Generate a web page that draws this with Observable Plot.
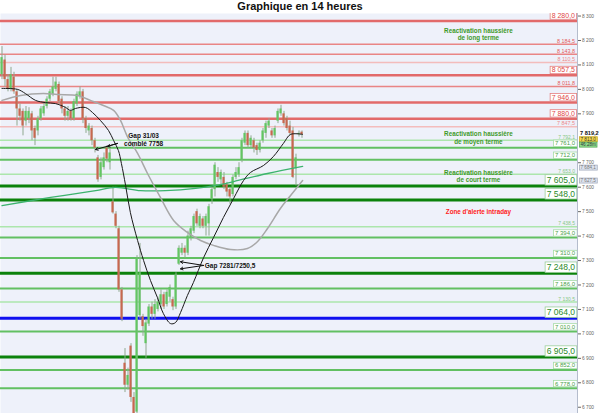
<!DOCTYPE html>
<html><head><meta charset="utf-8">
<script src="https://cdn.jsdelivr.net/npm/d3@7"></script>
<script src="https://cdn.jsdelivr.net/npm/@observablehq/plot@0.6"></script>
<style>
body{margin:0;background:#fff;font-family:"Liberation Sans",Arial,sans-serif;}
#title{height:13px;line-height:13px;text-align:center;font-weight:bold;font-size:11px;color:#111;}
#chart svg{display:block;}
</style></head><body>
<div id="title">Graphique en 14 heures</div>
<div id="chart"></div>
<script>
// ---------- candles (14h bars) ----------
const open  = [8060,8120,8040,8000,8050,7990,7920,7910,7870,7880,7900,7840,7830,7880,7900,7930,7960,7980,8000,8020,7960,7920,7890,7910,7880,7940,7970,7990,7880,7830,7840,7790,7720,7640,7680,7760,7700,7540,7490,7430,7180,6880,6790,6950,6740,6680,7075,7070,6960,7040,7110,7080,7100,7120,7160,7120,7150,7140,7110,7285,7330,7350,7330,7390,7420,7500,7440,7470,7440,7450,7550,7590,7660,7630,7640,7610,7590,7570,7640,7650,7710,7780,7820,7770,7790,7770,7750,7790,7820,7850,7830,7810,7870,7900,7900,7880,7850,7830,7675,7815,7825];
const high  = [8175,8140,8060,8090,8070,8000,7940,7920,7930,7925,7910,7850,7890,7930,7945,7970,8000,8050,8050,8030,7970,7930,7930,7920,7960,7990,8010,8000,7890,7860,7850,7800,7730,7720,7740,7770,7760,7600,7500,7440,7190,6940,6860,6960,6760,7320,7370,7080,7060,7120,7130,7140,7150,7180,7170,7180,7200,7150,7250,7360,7370,7360,7420,7440,7490,7510,7490,7480,7490,7530,7600,7700,7680,7670,7660,7620,7600,7650,7680,7700,7800,7830,7830,7810,7800,7780,7790,7840,7870,7880,7840,7850,7920,7935,7910,7890,7870,7845,7735,7830,7830];
const low   = [8040,8010,7990,7990,7980,7850,7870,7810,7850,7860,7790,7770,7810,7870,7890,7920,7950,7970,7990,7940,7900,7870,7870,7870,7870,7930,7960,7860,7820,7810,7770,7740,7620,7630,7670,7700,7670,7490,7430,7170,7050,6760,6770,6720,6650,6660,7060,6990,6900,7030,7060,7060,7090,7100,7100,7110,7130,7095,7100,7280,7320,7310,7320,7380,7410,7440,7430,7430,7400,7400,7530,7560,7620,7610,7590,7560,7530,7560,7630,7640,7700,7770,7760,7760,7740,7730,7740,7780,7800,7840,7800,7800,7860,7890,7850,7830,7810,7635,7605,7805,7800];
const close = [8130,8040,8000,8060,7990,7920,7890,7850,7910,7910,7830,7800,7880,7920,7930,7960,7990,8010,8030,7950,7920,7890,7910,7880,7950,7980,7990,7880,7840,7850,7790,7760,7630,7700,7720,7715,7740,7495,7440,7180,7060,6790,6830,6740,6670,7310,7250,7030,7045,7110,7080,7120,7130,7160,7110,7170,7190,7110,7240,7350,7350,7330,7400,7430,7480,7450,7480,7440,7480,7520,7590,7690,7640,7660,7600,7580,7560,7640,7660,7680,7790,7820,7770,7800,7760,7750,7780,7830,7860,7870,7810,7840,7910,7920,7860,7840,7820,7640,7720,7820,7815];

// ---------- moving averages: [bar index, value] ----------
const maShort = [[0,8004],[5.2,8000],[7.8,7983],[11.2,7955],[14.5,7946],[17.8,7942],[21.2,7926],[22.8,7914],[24.5,7922],[27.8,7926],[30.2,7905],[32.8,7873],[35.5,7832],[37.2,7791],[38.8,7750],[39.8,7697],[41.2,7607],[42.8,7496],[45.2,7382],[47.2,7300],[49.5,7218],[51.8,7149],[53.8,7083],[56.2,7042],[57.8,7046],[59.5,7087],[61.8,7157],[63.8,7210],[67.2,7312],[70.5,7394],[73.8,7476],[77.2,7554],[80.5,7627],[82.8,7660],[87.2,7689],[90.5,7726],[93.8,7779],[96.2,7816],[100.2,7816]];
const maMid   = [[0,7955],[6.2,7975],[13.8,7983],[18.5,7979],[25.2,7975],[29.5,7955],[33.8,7934],[37.2,7914],[39.5,7873],[41.8,7807],[45.2,7738],[48.5,7656],[52.8,7558],[57.2,7464],[61.8,7415],[66.2,7382],[70.5,7362],[76.2,7345],[81.8,7349],[85.2,7378],[88.5,7431],[92.8,7513],[96.2,7566],[100.2,7627]];
const maLong  = [[0,7525],[16.2,7558],[31.2,7586],[37.8,7599],[46.2,7586],[54.5,7586],[64.5,7595],[71.2,7607],[77.2,7623],[88.5,7656],[100.2,7685]];

// ---------- horizontal levels ----------
const levelValues = [8280,8184.5,8143.8,8110.5,8057.5,8011.8,7946,7880,7847.5,7792.1,7761,7712,7653,7605,7548,7438.5,7394,7310,7248,7186,7130.5,7064,7010,6905,6852,6778];
const levelKinds  = ["rMajor","rMinor","rMinor","rFaint","rMajor","rMinor","rMajor","rMajor","rFaint","gFaint","gMid","gMid","gFaint","gMajor","gMajor","gFaint","gMid","gMid","gMajor","gMid","gFaint","blue","gMid","gMajor","gMid","gMid"];

// ---------- axis ticks (7 800 is hidden under the price tag in the original) ----------
const yTicks = [6700,6800,6900,7000,7100,7200,7300,7400,7500,7600,7700,7900,8000,8100,8200,8300];

// ---------- annotations ----------
const noteTexts = ["Reactivation haussière\nde long terme","Reactivation haussière\nde moyen terme","Reactivation haussière\nde court terme","Zone d'alerte intraday","Gap 31/03\ncomblé 7758","Gap 7281/7250,5"];
const noteX     = [158.8,158.8,158.8,158.8,47.2,67.6];
const noteY     = [8226,7803,7644,7500,7795,7280];
const noteKinds = ["green","green","green","red","black","blackLeft"];
const arrowFrom = [[38.5,7779],[38.5,7779],[67.2,7280],[67.2,7280]];
const arrowTo   = [[31.2,7754],[35.2,7767],[59.5,7295],[59.5,7266]];

// ---------- right-margin price tags ----------
const tagTexts  = ["7 819,2","7 813,0","46:28m","7 684,1","7 627,5"];
const tagValues = [7819.2,7796,7774,7680,7627];
const tagKinds  = ["price","yellow","green","gray","gray"];

// ---------- layout ----------
const xDomain = [-0.5, 191.83];
const yDomain = [6674.4, 8310.4];

const STYLE = {
  rMajor:{line:"#e26a6a",w:2.5,font:7,  text:"#e04848",box:"#e58080"},
  rMinor:{line:"#e98585",w:1.5,font:5.4,text:"#e45a5a"},
  rFaint:{line:"#f3bcbc",w:1.5,font:5.4,text:"#ec8a8a"},
  gMajor:{line:"#0b820b",w:3,  font:8.5,text:"#2a8a2a",box:"#9ccf9c"},
  blue:  {line:"#1010f0",w:3,  font:8.5,text:"#2a8a2a",box:"#9ccf9c"},
  gMid:  {line:"#62c062",w:2,  font:6,  text:"#4aa04a",box:"#a6dca6"},
  gFaint:{line:"#ace6ac",w:1.5,font:5,  text:"#86c886"}
};
const spaced = s => s.replace(/\B(?=(\d{3})+(?!\d))/g, " ");
const fmtLevel = v => { const [a,b] = v.toFixed(1).split("."); return spaced(a) + "," + b; };
const fmtTick = v => spaced(String(v));

const levels = levelValues.map((v,k) => ({v, kind: levelKinds[k]}));
const idx = open.map((_, i) => i);
const notes = noteTexts.map((t,k) => ({t, x: noteX[k], y: noteY[k], kind: noteKinds[k]}));
const arrows = arrowFrom.map((f,k) => ({x1:f[0], y1:f[1], x2:arrowTo[k][0], y2:arrowTo[k][1]}));
const tags = tagTexts.map((t,k) => ({t, v: tagValues[k], kind: tagKinds[k]}));
const kinds = Object.keys(STYLE);

const marks = [
  Plot.frame({fill:"#eef1fa", stroke:null}),
  ...kinds.map(k => Plot.ruleY(levels.filter(d => d.kind === k), {y:"v", stroke:STYLE[k].line, strokeWidth:STYLE[k].w})),
  Plot.ruleX(idx, {x:i=>i, y1:i=>low[i], y2:i=>high[i], stroke:"#8fa88f", strokeWidth:1}),
  Plot.rect(idx, {x1:i=>i-0.36, x2:i=>i+0.36, y1:i=>open[i], y2:i=>close[i], fill:i=>close[i]>=open[i]?"#62c662":"#c8674f"}),
  Plot.line(maLong, {x:d=>d[0], y:d=>d[1], stroke:"#3cb36e", strokeWidth:1.3, curve:"catmull-rom"}),
  Plot.line(maMid, {x:d=>d[0], y:d=>d[1], stroke:"#a8a8a8", strokeWidth:1.5, curve:"catmull-rom"}),
  Plot.line(maShort, {x:d=>d[0], y:d=>d[1], stroke:"#1a1a1a", strokeWidth:1, curve:"catmull-rom"}),
  Plot.arrow(arrows, {x1:"x1", y1:"y1", x2:"x2", y2:"y2", stroke:"#111", strokeWidth:1, headLength:4}),
  Plot.text(notes.filter(d=>d.kind==="green"), {x:"x", y:"y", text:"t", fontSize:6.3, fontWeight:"bold", fill:"#3f9a2a", lineHeight:1.15}),
  Plot.text(notes.filter(d=>d.kind==="red"), {x:"x", y:"y", text:"t", fontSize:6.3, fontWeight:"bold", fill:"#ff2020"}),
  Plot.text(notes.filter(d=>d.kind==="black"), {x:"x", y:"y", text:"t", fontSize:6.5, fontWeight:"bold", fill:"#111", lineHeight:1.15}),
  Plot.text(notes.filter(d=>d.kind==="blackLeft"), {x:"x", y:"y", text:"t", fontSize:6.5, fontWeight:"bold", fill:"#111", textAnchor:"start"}),
  ...kinds.map(k => Plot.text(levels.filter(d => d.kind === k), {
    y:"v", text:d=>fmtLevel(d.v), frameAnchor:"right", textAnchor:"end", lineAnchor:"bottom",
    dx:-2.5, dy:-(STYLE[k].w/2 + (STYLE[k].box ? 1.6 : 0.6)),
    fontSize:STYLE[k].font, fill:STYLE[k].text,
    ariaDescription: STYLE[k].box ? "box-" + k : "lab-" + k
  })),
  Plot.ruleX([xDomain[1]], {stroke:"#b4bccc", strokeWidth:1}),
  Plot.text(tags.filter(d=>d.kind==="price"), {x:()=>xDomain[1], y:"v", text:"t", textAnchor:"start", dx:2.5, fontSize:5.6, fontWeight:"bold", fill:"#111"}),
  Plot.text(tags.filter(d=>d.kind==="yellow"), {x:()=>xDomain[1], y:"v", text:"t", textAnchor:"start", dx:3, fontSize:4.6, fill:"#333", ariaDescription:"tag-yellow"}),
  Plot.text(tags.filter(d=>d.kind==="green"), {x:()=>xDomain[1], y:"v", text:"t", textAnchor:"start", dx:3, fontSize:4.6, fill:"#333", ariaDescription:"tag-green"}),
  Plot.text(tags.filter(d=>d.kind==="gray"), {x:()=>xDomain[1], y:"v", text:"t", textAnchor:"start", dx:3, fontSize:4.6, fill:"#777", ariaDescription:"tag-gray"})
];

const chart = Plot.plot({
  width:600, height:400,
  marginLeft:0, marginRight:23, marginTop:0, marginBottom:0,
  style:{fontFamily:"'Liberation Sans', Arial, sans-serif", fontSize:"4.8px", color:"#666", background:"#fff"},
  x:{domain:xDomain, axis:null},
  y:{domain:yDomain, axis:"right", ticks:yTicks, tickSize:3, tickPadding:1.5, tickFormat:fmtTick, label:null},
  marks
});
document.getElementById("chart").appendChild(chart);

function boxify(desc, fill, stroke, padX, padY) {
  chart.querySelectorAll(`[aria-description="${desc}"] text`).forEach(t => {
    const b = t.getBBox();
    const r = document.createElementNS("http://www.w3.org/2000/svg", "rect");
    r.setAttribute("x", b.x - padX); r.setAttribute("y", b.y - padY);
    r.setAttribute("width", b.width + 2 * padX); r.setAttribute("height", b.height + 2 * padY);
    r.setAttribute("fill", fill); r.setAttribute("stroke", stroke); r.setAttribute("stroke-width", 0.8);
    if (t.getAttribute("transform")) r.setAttribute("transform", t.getAttribute("transform"));
    t.parentNode.insertBefore(r, t);
  });
}
kinds.filter(k => STYLE[k].box).forEach(k => boxify("box-" + k, "#fff", STYLE[k].box, 1.5, 0.2));
boxify("tag-yellow", "#f3d848", "#c8a820", 1, 0);
boxify("tag-green", "#8ede8e", "#5aa85a", 1, 0);
boxify("tag-gray", "#dde3ee", "#a8b0c0", 1, 0);
</script></body></html>
